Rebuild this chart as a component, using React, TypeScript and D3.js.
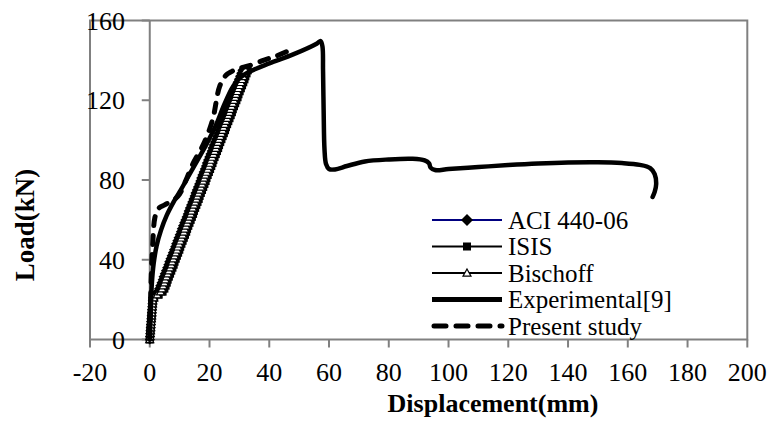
import React from 'react';
import * as d3 from 'd3';

// Axis ticks
const X_TICKS = [-20, 0, 20, 40, 60, 80, 100, 120, 140, 160, 180, 200];
const Y_TICKS = [0, 40, 80, 120, 160];

// Load steps (kN) shared by the three analytical models
const LOADS = [
  0, 1.5, 3, 4.5, 6, 7.5, 9, 10.5, 12, 13.5, 15, 16.5, 18, 19.5, 21, 22.5, 24, 25.5, 27, 28.5,
  30, 31.5, 33, 34.5, 36, 37.5, 39, 40.5, 42, 43.5, 45, 46.5, 48, 49.5, 51, 52.5, 54, 55.5, 57, 58.5,
  60, 61.5, 63, 64.5, 66, 67.5, 69, 70.5, 72, 73.5, 75, 76.5, 78, 79.5, 81, 82.5, 84, 85.5, 87, 88.5,
  90, 91.5, 93, 94.5, 96, 97.5, 99, 100.5, 102, 103.5, 105, 106.5, 108, 109.5, 111, 112.5, 114, 115.5,
  117, 118.5, 120, 121.5, 123, 124.5, 126, 127.5, 129, 130.5, 132, 133.5, 135,
];

// Mid-span displacement (mm) for each model at the loads above
const ACI_DISP = [
  0, 0.08, 0.15, 0.23, 0.3, 0.38, 0.45, 0.53, 0.6, 0.68, 0.75, 0.83, 0.9, 0.98,
  1.1, 1.8, 2.6,
  3.1, 3.5, 3.9, 4.3, 4.6, 5.0, 5.4, 5.8, 6.2, 6.5, 6.9, 7.3, 7.7, 8.1, 8.5, 8.8, 9.2, 9.6, 10.0, 10.4,
  10.7, 11.1, 11.5, 11.9, 12.3, 12.7, 13.0, 13.4, 13.8, 14.2, 14.6, 15.0, 15.3, 15.7, 16.1, 16.5, 16.9, 17.2, 17.6, 18.0,
  18.4, 18.8, 19.1, 19.5, 19.9, 20.3, 20.7, 21.0, 21.4, 21.8, 22.2, 22.6, 23.0, 23.3, 23.7, 24.1, 24.5, 24.9, 25.2, 25.6,
  26.0, 26.4, 26.8, 27.2, 27.5, 27.9, 28.3, 28.7, 29.1, 29.4, 29.8, 30.2, 30.6, 31.0,
];
const ISIS_DISP = [
  0, 0.08, 0.15, 0.23, 0.3, 0.38, 0.45, 0.53, 0.6, 0.68, 0.75, 0.83, 0.9, 0.98,
  1.5, 3.0, 4.3,
  4.9, 5.3, 5.7, 6.0, 6.4, 6.8, 7.2, 7.6, 8.0, 8.3, 8.7, 9.1, 9.5, 9.9, 10.2, 10.6, 11.0, 11.4, 11.8, 12.2,
  12.5, 12.9, 13.3, 13.7, 14.1, 14.5, 14.8, 15.2, 15.6, 16.0, 16.4, 16.7, 17.1, 17.5, 17.9, 18.3, 18.7, 19.0, 19.4, 19.8,
  20.2, 20.6, 21.0, 21.3, 21.7, 22.1, 22.5, 22.9, 23.2, 23.6, 24.0, 24.4, 24.8, 25.2, 25.5, 25.9, 26.3, 26.7, 27.1, 27.5,
  27.8, 28.2, 28.6, 29.0, 29.4, 29.7, 30.1, 30.5, 30.9, 31.3, 31.7, 32.0, 32.4, 32.8,
];
const BISCHOFF_DISP = [
  0, 0.08, 0.15, 0.23, 0.3, 0.38, 0.45, 0.53, 0.6, 0.68, 0.75, 0.83, 0.9, 0.98,
  1.3, 2.5, 3.6,
  4.1, 4.5, 4.9, 5.2, 5.6, 6.0, 6.4, 6.8, 7.2, 7.5, 7.9, 8.3, 8.7, 9.1, 9.4, 9.8, 10.2, 10.6, 11.0, 11.4,
  11.7, 12.1, 12.5, 12.9, 13.3, 13.7, 14.0, 14.4, 14.8, 15.2, 15.6, 15.9, 16.3, 16.7, 17.1, 17.5, 17.9, 18.2, 18.6, 19.0,
  19.4, 19.8, 20.2, 20.5, 20.9, 21.3, 21.7, 22.1, 22.4, 22.8, 23.2, 23.6, 24.0, 24.4, 24.7, 25.1, 25.5, 25.9, 26.3, 26.7,
  27.0, 27.4, 27.8, 28.2, 28.6, 28.9, 29.3, 29.7, 30.1, 30.5, 30.9, 31.2, 31.6, 32.0,
];

// Test record
const EXP_DISP = [
  0, 0.3, 0.7, 1.3, 2.3, 3.8, 5.6, 8, 10, 13, 16, 19, 22, 25, 27.5, 30, 33, 40, 48, 56,
  57.2, 57.8, 58, 58.2, 58.5, 59, 60, 62, 66, 72, 80, 88, 92, 93.5, 94, 95.5, 100, 110, 120, 130,
  140, 150, 158, 164, 167.5, 169, 169.5, 169, 168.3,
];
const EXP_LOAD = [
  0, 12, 28, 38, 47, 55, 62, 69, 74, 82, 90, 98, 107, 118, 126, 131, 134, 138.5, 143, 148.5,
  149.7, 147, 135, 115, 95, 88, 85.5, 85.3, 87, 89.3, 90.3, 90.6, 89.8, 88.3, 86.2, 85, 85.5, 86.5, 87.5, 88.3,
  88.8, 88.9, 88.5, 87.6, 86, 83, 78, 74, 71.5,
];

// Finite element prediction
const PRESENT_DISP = [0, 0.2, 0.5, 1, 1.7, 2.8, 5, 8, 10, 12, 14.4, 18, 21, 23.4, 25.5, 27.5, 30, 33, 38, 42, 46];
const PRESENT_LOAD = [0, 15, 32, 48, 61, 65.5, 67.5, 70, 73, 79.5, 88, 98, 110, 127, 132.5, 134.5, 136, 137.2, 140, 142, 144.5];

const LEGEND_LABELS = ['ACI 440-06', 'ISIS', 'Bischoff', 'Experimental[9]', 'Present study'];

const FONT = '"Liberation Serif", "DejaVu Serif", serif';
const GRAY = '#808080';

type Pt = [number, number];

function zip(d: number[], p: number[]): Pt[] {
  const n = Math.min(d.length, p.length);
  const out: Pt[] = [];
  for (let i = 0; i < n; i++) out.push([d[i], p[i]]);
  return out;
}

function diamond(cx: number, cy: number, r: number) {
  return `M${cx},${cy - r}L${cx + r},${cy}L${cx},${cy + r}L${cx - r},${cy}Z`;
}
function triangle(cx: number, cy: number, r: number) {
  return `M${cx},${cy - r}L${cx + r},${cy + r * 0.8}L${cx - r},${cy + r * 0.8}Z`;
}

const textStyle: React.CSSProperties = { fontFamily: FONT };

export default function App() {
  const W = 777;
  const H = 430;
  const x = d3.scaleLinear().domain([-20, 200]).range([90, 747.3]);
  const y = d3.scaleLinear().domain([0, 160]).range([339.5, 20.5]);

  const line = d3
    .line<Pt>()
    .x((d) => x(d[0]))
    .y((d) => y(d[1]));
  const smooth = d3
    .line<Pt>()
    .x((d) => x(d[0]))
    .y((d) => y(d[1]))
    .curve(d3.curveCatmullRom.alpha(0.5));

  const aci = zip(ACI_DISP, LOADS);
  const isis = zip(ISIS_DISP, LOADS);
  const bischoff = zip(BISCHOFF_DISP, LOADS);
  const exp = zip(EXP_DISP, EXP_LOAD);
  const present = zip(PRESENT_DISP, PRESENT_LOAD);

  const legendX0 = 432;
  const legendX1 = 502;
  const legendMid = (legendX0 + legendX1) / 2;
  const legendY0 = 220;
  const legendStep = 26.5;

  return (
    <svg
      width={W}
      height={H}
      viewBox={`0 0 ${W} ${H}`}
      style={{ position: 'absolute', left: 0, top: 0, background: '#fff' }}
    >
      <rect x={0} y={0} width={W} height={H} fill="#fff" />

      {/* plot frame */}
      <rect
        x={x(-20)}
        y={y(160)}
        width={x(200) - x(-20)}
        height={y(0) - y(160)}
        fill="none"
        stroke={GRAY}
        strokeWidth={2}
      />
      {/* vertical axis at zero displacement */}
      <line x1={x(0)} x2={x(0)} y1={y(0)} y2={y(160)} stroke={GRAY} strokeWidth={2} />
      {Y_TICKS.map((t) => (
        <g key={`yt${t}`}>
          <line x1={x(0) - 8} x2={x(0)} y1={y(t)} y2={y(t)} stroke={GRAY} strokeWidth={2} />
          <text x={125} y={y(t) + 9} textAnchor="end" fontSize={26} fill="#000" style={textStyle}>
            {t}
          </text>
        </g>
      ))}
      {X_TICKS.map((t) => (
        <g key={`xt${t}`}>
          <line x1={x(t)} x2={x(t)} y1={y(0)} y2={y(0) + 8} stroke={GRAY} strokeWidth={2} />
          <text x={x(t)} y={381} textAnchor="middle" fontSize={26} fill="#000" style={textStyle}>
            {t}
          </text>
        </g>
      ))}

      {/* axis titles */}
      <text
        x={493}
        y={412}
        textAnchor="middle"
        fontSize={26}
        fontWeight="bold"
        fill="#000"
        style={textStyle}
      >
        Displacement(mm)
      </text>
      <text
        transform="translate(34,225) rotate(-90)"
        textAnchor="middle"
        fontSize={27}
        fontWeight="bold"
        fill="#000"
        style={textStyle}
      >
        Load(kN)
      </text>

      {/* ACI 440-06 */}
      <path d={line(aci) || ''} fill="none" stroke="#000080" strokeWidth={2} />
      {aci.map((d, i) => (
        <path key={`a${i}`} d={diamond(x(d[0]), y(d[1]), 5)} fill="#000" />
      ))}
      {/* ISIS */}
      <path d={line(isis) || ''} fill="none" stroke="#000" strokeWidth={2} />
      {isis.map((d, i) => (
        <rect key={`s${i}`} x={x(d[0]) - 4} y={y(d[1]) - 4} width={8} height={8} fill="#000" />
      ))}
      {/* Bischoff */}
      <path d={line(bischoff) || ''} fill="none" stroke="#000" strokeWidth={1.5} />
      {bischoff.map((d, i) => (
        <path
          key={`b${i}`}
          d={triangle(x(d[0]), y(d[1]), 4)}
          fill="#fff"
          stroke="#000"
          strokeWidth={1.2}
        />
      ))}

      {/* Experimental */}
      <path
        d={smooth(exp) || ''}
        fill="none"
        stroke="#000"
        strokeWidth={4.5}
        strokeLinejoin="round"
        strokeLinecap="round"
      />
      {/* Present study */}
      <path
        d={smooth(present) || ''}
        fill="none"
        stroke="#000"
        strokeWidth={5}
        strokeDasharray="9,10"
        strokeLinecap="round"
      />

      {/* legend */}
      {LEGEND_LABELS.map((label, i) => {
        const ly = legendY0 + i * legendStep;
        let sample: React.ReactNode = null;
        if (i === 0) {
          sample = (
            <g>
              <line x1={legendX0} x2={legendX1} y1={ly} y2={ly} stroke="#000080" strokeWidth={2} />
              <path d={diamond(legendMid, ly, 6)} fill="#000" />
            </g>
          );
        } else if (i === 1) {
          sample = (
            <g>
              <line x1={legendX0} x2={legendX1} y1={ly} y2={ly} stroke="#000" strokeWidth={2} />
              <rect x={legendMid - 4} y={ly - 4} width={8} height={8} fill="#000" />
            </g>
          );
        } else if (i === 2) {
          sample = (
            <g>
              <line x1={legendX0} x2={legendX1} y1={ly} y2={ly} stroke="#000" strokeWidth={2} />
              <path d={triangle(legendMid, ly, 4)} fill="#fff" stroke="#000" strokeWidth={1.2} />
            </g>
          );
        } else if (i === 3) {
          sample = <line x1={legendX0} x2={legendX1} y1={ly} y2={ly} stroke="#000" strokeWidth={5} />;
        } else {
          sample = (
            <line
              x1={legendX0 + 2}
              x2={legendX1}
              y1={ly}
              y2={ly}
              stroke="#000"
              strokeWidth={5}
              strokeDasharray="12,10"
              strokeLinecap="round"
            />
          );
        }
        return (
          <g key={label}>
            {sample}
            <text x={508} y={ly + 8.5} fontSize={25} fill="#000" style={textStyle}>
              {label}
            </text>
          </g>
        );
      })}
    </svg>
  );
}
